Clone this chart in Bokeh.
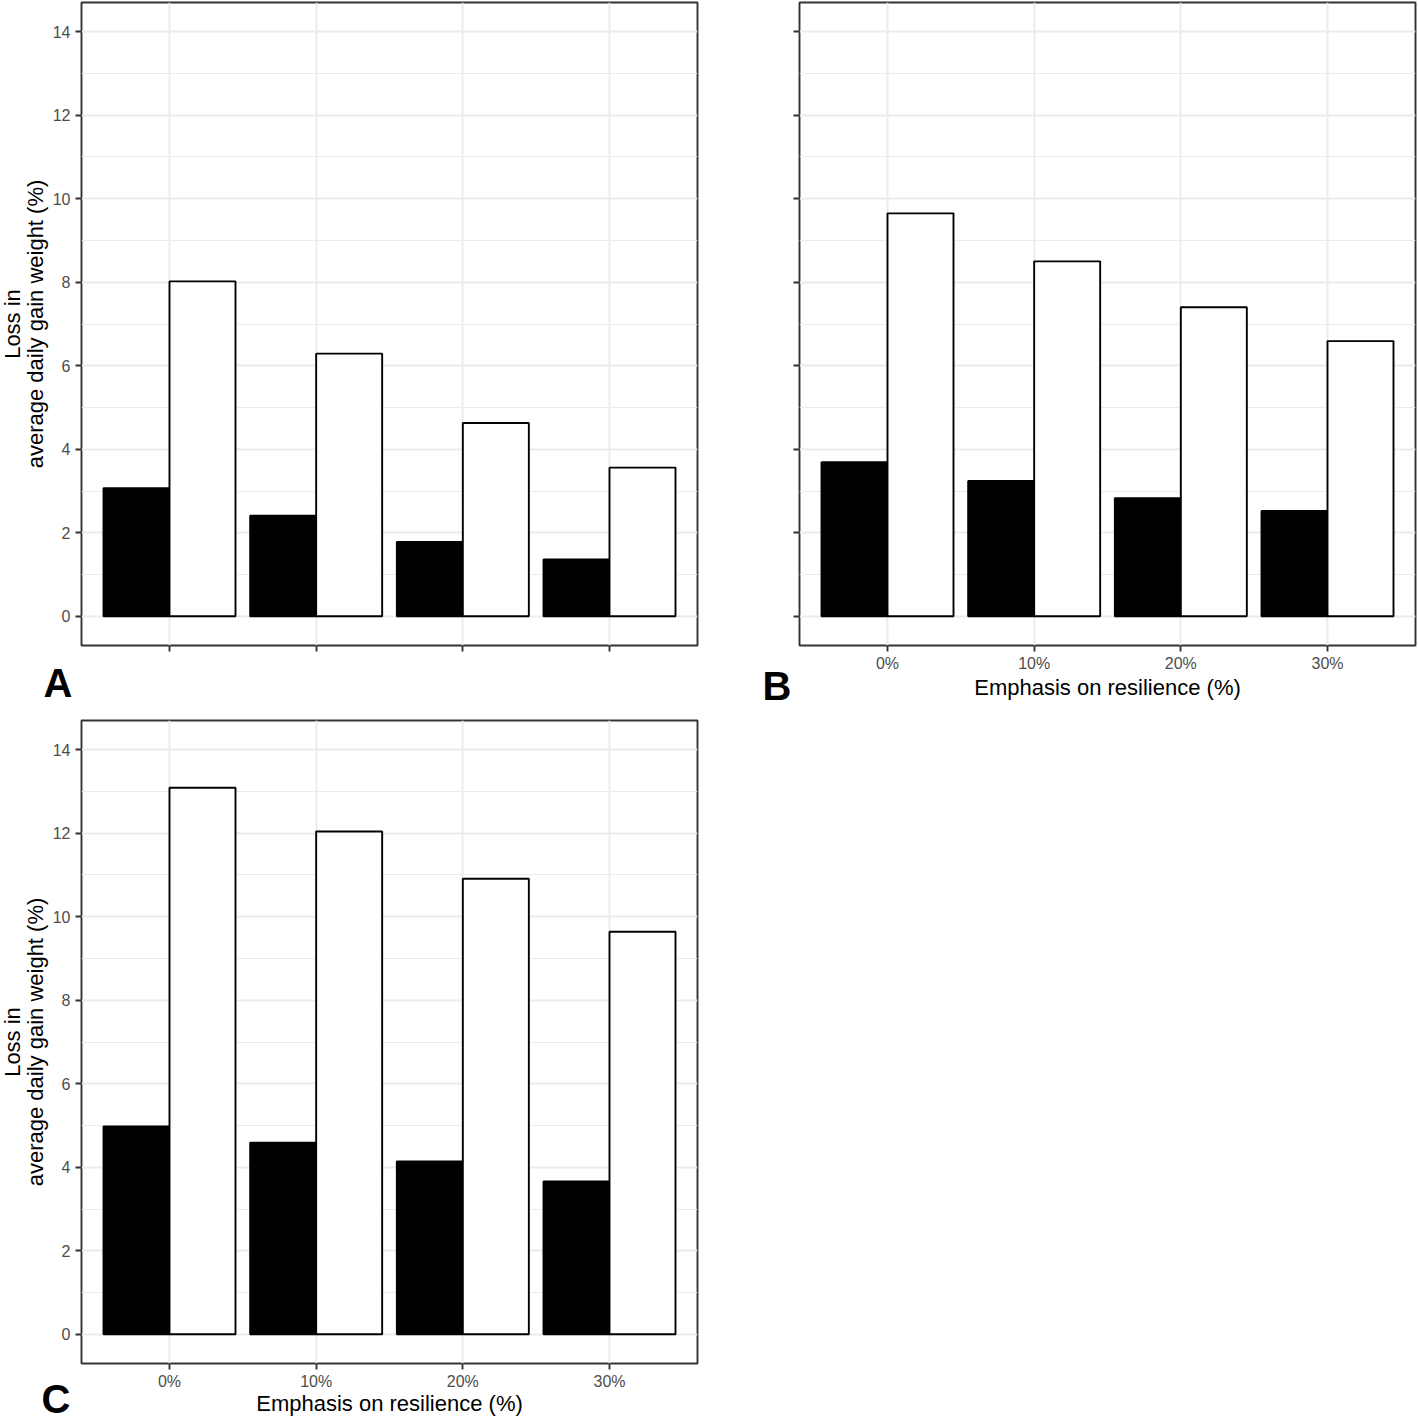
from bokeh.plotting import figure
from bokeh.models import Range1d, FixedTicker, ColumnDataSource, Title
from bokeh.layouts import column, row
from bokeh.embed import file_html
from bokeh.resources import INLINE

# ---------------- data ----------------
categories = ["0%", "10%", "20%", "30%"]
y_ticks = [0, 2, 4, 6, 8, 10, 12, 14]
y_minor = [1, 3, 5, 7, 9, 11, 13]

a_black = [3.07, 2.41, 1.78, 1.36]
a_white = [8.02, 6.29, 4.63, 3.56]
b_black = [3.69, 3.24, 2.83, 2.52]
b_white = [9.65, 8.50, 7.40, 6.59]
c_black = [4.98, 4.59, 4.14, 3.66]
c_white = [13.09, 12.04, 10.91, 9.64]

panel_letters = ["A", "B", "C"]
x_title = "Emphasis on resilience (%)"
y_title = "Loss in\naverage daily gain weight (%)"

# ---------------- style ----------------
FONT = "Liberation Sans"
GRID = "#EBEBEB"
DARK = "#333333"
TICKLAB = "#4D4D4D"
LW = 1.9


def make_panel(black, white, width, height, mb_left, mb_right, mb_top, mb_bottom,
               show_x, show_y, letter, l_offset, l_standoff, x_standoff,
               pad_size="8px"):
    p = figure(width=width, height=height,
               x_range=Range1d(0.4, 4.6), y_range=Range1d(-0.7, 14.7),
               output_backend="svg", toolbar_location=None,
               min_border_left=mb_left, min_border_right=mb_right,
               min_border_top=mb_top, min_border_bottom=mb_bottom)
    pos = list(range(1, len(categories) + 1))
    src = ColumnDataSource(dict(
        xb=[x - 0.225 for x in pos], xw=[x + 0.225 for x in pos],
        black=black, white=white))
    p.vbar(x="xb", top="black", bottom=0, width=0.45, source=src,
           fill_color="black", line_color="black", line_width=LW)
    p.vbar(x="xw", top="white", bottom=0, width=0.45, source=src,
           fill_color="white", line_color="black", line_width=LW)

    xt = FixedTicker(ticks=pos)
    yt = FixedTicker(ticks=y_ticks, minor_ticks=y_minor)
    p.xaxis.ticker = xt
    p.yaxis.ticker = yt
    p.xgrid.ticker = xt
    p.ygrid.ticker = yt
    p.xaxis.major_label_overrides = {x: c for x, c in zip(pos, categories)}

    p.xgrid.grid_line_color = GRID
    p.xgrid.grid_line_width = LW
    p.ygrid.grid_line_color = GRID
    p.ygrid.grid_line_width = LW
    p.ygrid.minor_grid_line_color = GRID
    p.ygrid.minor_grid_line_width = 1

    for ax in (p.xaxis[0], p.yaxis[0]):
        ax.axis_line_color = None
        ax.major_tick_line_color = DARK
        ax.major_tick_line_width = LW
        ax.major_tick_out = 6
        ax.major_tick_in = 0
        ax.minor_tick_line_color = None
        ax.major_label_text_font = FONT
        ax.major_label_text_font_size = "16px"
        ax.major_label_text_color = TICKLAB
        ax.axis_label_text_font = FONT
        ax.axis_label_text_font_style = "normal"
        ax.axis_label_text_color = "black"

    # x axis: tick labels + an invisible blank label used as spacing
    p.xaxis.major_label_standoff = 3
    p.xaxis.axis_label = " "
    p.xaxis.axis_label_text_font_size = pad_size
    p.xaxis.axis_label_standoff = 0
    if not show_x:
        p.xaxis.major_label_text_color = None

    p.yaxis.major_label_standoff = 5
    if show_y:
        p.yaxis.axis_label = y_title
        p.yaxis.axis_label_text_font_size = "22px"
        p.yaxis.axis_label_text_line_height = 0.9
        p.yaxis.axis_label_standoff = 2
    else:
        p.yaxis.major_label_text_color = None

    p.outline_line_color = DARK
    p.outline_line_width = LW
    p.background_fill_color = "white"
    p.border_fill_color = "white"

    p.add_layout(Title(text=letter, align="left", offset=l_offset,
                       vertical_align="top", standoff=l_standoff,
                       text_font=FONT, text_font_style="bold",
                       text_font_size="40px", text_color="black"), "below")
    if show_x:
        p.add_layout(Title(text=x_title, align="center",
                           vertical_align="top", standoff=x_standoff,
                           text_font=FONT, text_font_style="normal",
                           text_font_size="22px", text_color="black"), "below")
    return p


pA = make_panel(a_black, a_white, 721, 715, 85, 20, 2, 70, False, True,
                panel_letters[0], -38, -6, 0)
pB = make_panel(b_black, b_white, 701, 715, 82, 3, 2, 70, True, False,
                panel_letters[1], -37, -45, -26)
pC = make_panel(c_black, c_white, 721, 706, 85, 20, 5, 58, True, True,
                panel_letters[2], -40, -46.5, -18.5, pad_size="4px")

layout = column(row(pA, pB), pC, margin=(0, 0, 0, -4))
open("out.html", "w").write(file_html(layout, INLINE))
